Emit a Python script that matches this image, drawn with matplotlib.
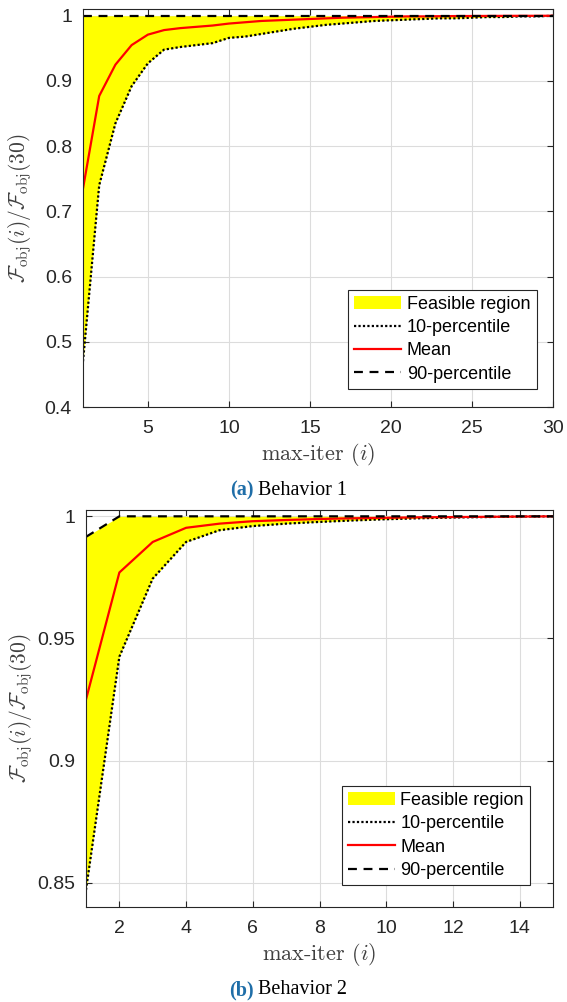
import numpy as np
import matplotlib
matplotlib.use('Agg')
import matplotlib.pyplot as plt
from matplotlib.ticker import FuncFormatter

plt.rcParams['font.family'] = ['Liberation Sans', 'DejaVu Sans']
plt.rcParams['mathtext.fontset'] = 'cm'

# behavior 1, max-iter 1..30
iters_a = list(range(1, 31))
mean_a = [0.735, 0.877, 0.925, 0.955, 0.971, 0.978, 0.981, 0.983, 0.985, 0.988,
          0.990, 0.992, 0.993, 0.994, 0.995, 0.996, 0.997, 0.9975, 0.998, 0.9985,
          0.999, 0.999, 0.9993, 0.9995, 0.9996, 0.9997, 0.9998, 0.9999, 0.9999, 1.0]
p10_a = [0.47, 0.74, 0.835, 0.892, 0.927, 0.948, 0.952, 0.955, 0.958, 0.966,
         0.968, 0.972, 0.976, 0.980, 0.983, 0.986, 0.988, 0.990, 0.992, 0.993,
         0.994, 0.995, 0.996, 0.996, 0.997, 0.998, 0.998, 0.999, 0.999, 1.0]
p90_a = [1.0] * 30

# behavior 2, max-iter 1..15
iters_b = list(range(1, 16))
mean_b = [0.925, 0.977, 0.9895, 0.9953, 0.997, 0.998, 0.9985, 0.9989, 0.9992,
          0.9994, 0.9996, 0.9997, 0.9998, 0.9999, 1.0]
p10_b = [0.847, 0.9425, 0.9745, 0.9895, 0.9943, 0.996, 0.997, 0.9977, 0.9983,
         0.9988, 0.9992, 0.9995, 0.9997, 0.9999, 1.0]
p90_b = [0.9916] + [1.0] * 14

axcol = '#262626'
ylab = r'$\mathcal{F}_{\rm obj}(i)/\mathcal{F}_{\rm obj}(30)$'


def fmt(v, pos):
    return '%g' % round(v, 4)


def panel(ax, x, p10, mean, p90, xlim, ylim, xticks, yticks, leg_anchor, ylab_x):
    ax.fill_between(x, p10, p90, color='yellow', linewidth=0, label='Feasible region')
    ax.plot(x, p10, color='black', linestyle=(0, (1, 1)), linewidth=1.6, label='10-percentile')
    ax.plot(x, mean, color='red', linewidth=1.6, label='Mean')
    ax.plot(x, p90, color='black', linestyle=(0, (4, 3)), linewidth=1.6, label='90-percentile')
    ax.set_xlim(xlim)
    ax.set_ylim(ylim)
    ax.set_xticks(xticks)
    ax.set_yticks(yticks)
    ax.yaxis.set_major_formatter(FuncFormatter(fmt))
    ax.grid(True, color='#dcdcdc', linewidth=0.8)
    ax.set_axisbelow(True)
    ax.tick_params(direction='in', top=True, right=True, colors=axcol,
                   labelsize=14, length=4)
    ax.tick_params(axis='y', pad=8)
    ax.tick_params(axis='x', pad=9)
    for s in ax.spines.values():
        s.set_color(axcol)
        s.set_linewidth(0.8)
    ax.set_ylabel(ylab, fontsize=15.5, color='#404040')
    ax.yaxis.set_label_coords(ylab_x, 0.5)
    ax.set_xlabel('max-iter $(i)$', fontsize=16, family='cmr10', color='#404040', labelpad=3)
    leg = ax.legend(loc='lower right', bbox_to_anchor=leg_anchor, borderaxespad=0,
                    fontsize=13, fancybox=False, framealpha=1, edgecolor=axcol,
                    handlelength=2.6, handletextpad=0.3, labelspacing=0.35,
                    borderpad=0.35)
    leg.get_frame().set_linewidth(0.8)


fig = plt.figure(figsize=(5.67, 10.02), dpi=100)

ax1 = fig.add_axes([0.1464, 0.5938, 0.829, 0.397])
panel(ax1, iters_a, p10_a, mean_a, p90_a, (1, 30), (0.4, 1.01),
      [5, 10, 15, 20, 25, 30], [0.4, 0.5, 0.6, 0.7, 0.8, 0.9, 1.0], (0.965, 0.045), -0.105)

ax2 = fig.add_axes([0.1517, 0.0948, 0.8236, 0.396])
panel(ax2, iters_b, p10_b, mean_b, p90_b, (1, 15), (0.84, 1.0025),
      [2, 4, 6, 8, 10, 12, 14], [0.85, 0.9, 0.95, 1.0], (0.951, 0.055), -0.11)

blue = '#1f6ea8'
for yy, lab, txt in [(1 - 490 / 1002, '(a)', ' Behavior 1'), (1 - 990 / 1002, '(b)', ' Behavior 2')]:
    fig.text(0.447, yy, lab, fontsize=14.5, color=blue, weight='bold',
             family='Liberation Serif', ha='right', va='center')
    fig.text(0.447, yy, txt, fontsize=14.5, color='black',
             family='Liberation Serif', ha='left', va='center')

fig.savefig('out.png', dpi=100)
